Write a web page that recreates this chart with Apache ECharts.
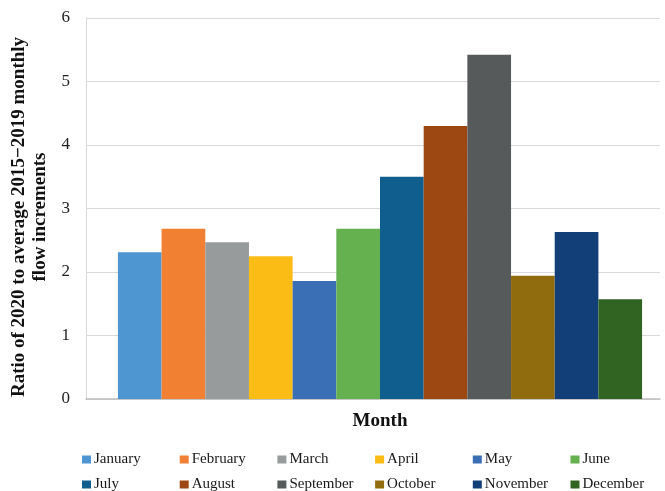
<!DOCTYPE html>
<html>
<head>
<meta charset="utf-8">
<script src="https://cdn.jsdelivr.net/npm/echarts@6/dist/echarts.min.js"></script>
<style>html,body{margin:0;padding:0;background:#fff}#chart{width:665px;height:491px}</style>
</head>
<body>
<div id="chart"></div>
<script>
// Ratio of 2020 monthly flow increment to the 2015–2019 average
const months = ['January','February','March','April','May','June','July','August','September','October','November','December'];
const ratios = [2.31, 2.68, 2.47, 2.25, 1.86, 2.68, 3.50, 4.30, 5.42, 1.94, 2.63, 1.57];
const colors = ['#4e96d1','#f28033','#989b9c','#fbbc16','#3a6fb6','#65b04f','#0f5e8e','#9d4712','#565a5b','#916c0e','#123f78','#316323'];
const yTicks = [0, 1, 2, 3, 4, 5, 6];

const font = '"Liberation Serif", "Times New Roman", serif';

// bars live on the second grid, which sits slightly right of the framed grid
const series = months.map((m, i) => ({
  name: m,
  type: 'bar',
  xAxisIndex: 1,
  yAxisIndex: 1,
  data: [ratios[i]],
  itemStyle: { color: colors[i] },
  barGap: '0%',
  barCategoryGap: '6.4%'
}));

// one legend block per item, laid out in two rows of six
const legends = months.map((m, i) => ({
  data: [m],
  left: 82 + (i % 6) * 97.7,
  top: i < 6 ? 452 : 477,
  itemWidth: 9,
  itemHeight: 8,
  itemGap: 0,
  icon: 'rect',
  padding: 0,
  selectedMode: false,
  textStyle: { fontFamily: font, fontSize: 15, color: '#1a1a1a', padding: [0, 0, 0, -2] }
}));

const yRange = { type: 'value', min: yTicks[0], max: yTicks[yTicks.length - 1], interval: 1 };

const chart = echarts.init(document.getElementById('chart'));
chart.setOption({
  animation: false,
  textStyle: { fontFamily: font },
  grid: [
    { left: 86, right: 5, top: 18, bottom: 92, containLabel: false, outerBoundsMode: 'none' },
    { left: 100, right: 5, top: 18, bottom: 92, containLabel: false, outerBoundsMode: 'none' }
  ],
  legend: legends,
  xAxis: [{
    gridIndex: 0,
    type: 'category',
    data: ['Month'],
    axisLine: { lineStyle: { color: '#bfbfbf', width: 1.5 } },
    axisTick: { show: false },
    axisLabel: { show: false }
  }, {
    gridIndex: 1,
    type: 'category',
    data: ['Month'],
    name: 'Month',
    nameLocation: 'middle',
    nameGap: 13,
    nameTextStyle: { fontFamily: font, fontWeight: 'bold', fontSize: 19, color: '#111' },
    axisLine: { show: false },
    axisTick: { show: false },
    axisLabel: { show: false }
  }],
  yAxis: [Object.assign({}, yRange, {
    gridIndex: 0,
    name: 'Ratio of 2020 to average 2015\u22122019 monthly\nflow increments',
    nameLocation: 'middle',
    nameRotate: 90,
    nameGap: 33,
    nameTextStyle: { fontFamily: font, fontWeight: 'bold', fontSize: 19, color: '#111', lineHeight: 21, padding: [0, 17, 0, 0] },
    axisLine: { show: true, lineStyle: { color: '#d9d9d9' } },
    axisTick: { show: false },
    axisLabel: { fontFamily: font, fontSize: 17, color: '#222', margin: 16 },
    splitLine: { lineStyle: { color: '#d9d9d9', width: 1.2 } }
  }), Object.assign({}, yRange, {
    gridIndex: 1,
    show: false,
    splitLine: { show: false }
  })],
  series: series
});
</script>
</body>
</html>
